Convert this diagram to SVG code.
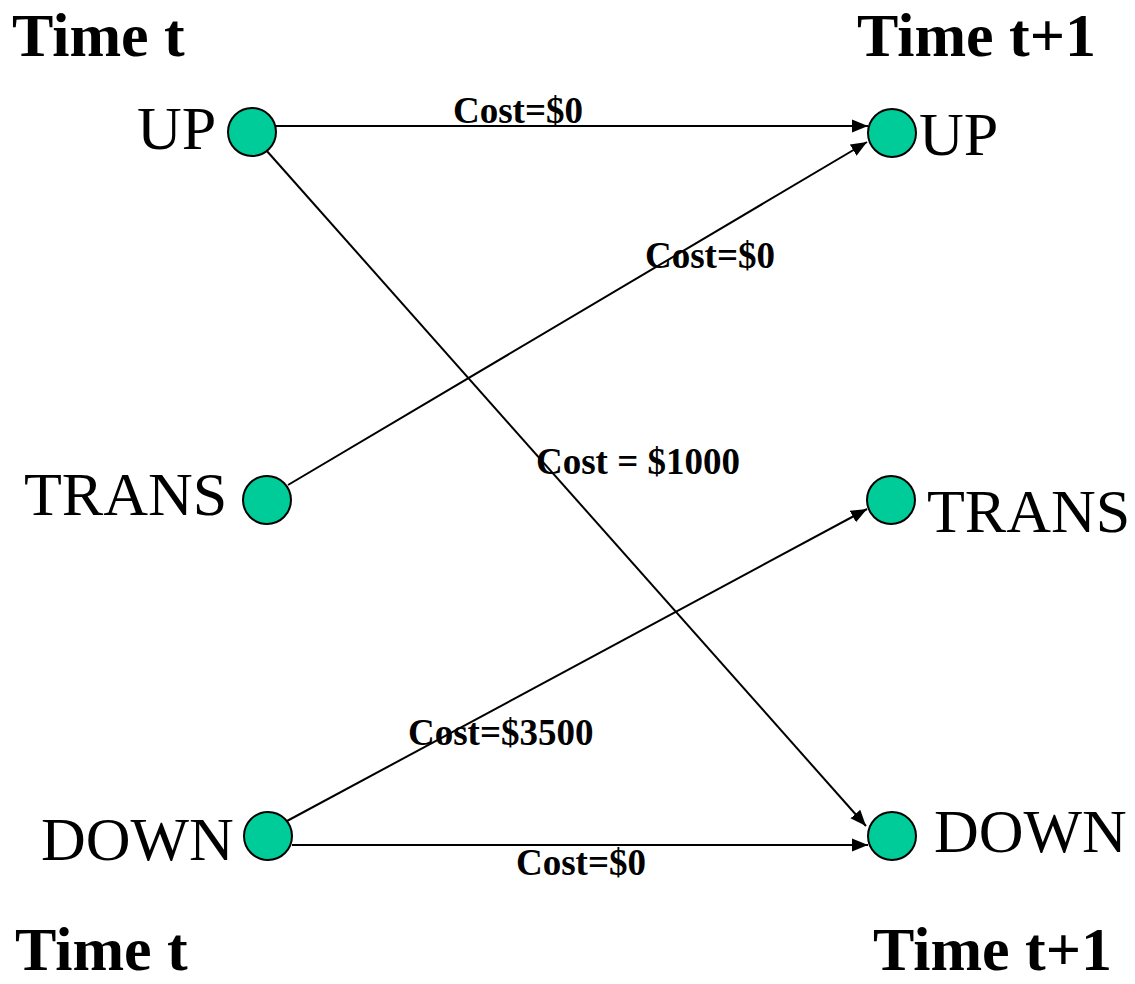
<svg xmlns="http://www.w3.org/2000/svg" width="1135" height="984" viewBox="0 0 1135 984">
<style>
.node{fill:#00CC99;stroke:#000;stroke-width:2}
.lbl{font-family:"Liberation Serif","Times New Roman",serif;font-size:62px;fill:#000}
.hdr{font-family:"Liberation Serif","Times New Roman",serif;font-size:62px;font-weight:bold;fill:#000}
.cost{font-family:"Liberation Serif","Times New Roman",serif;font-size:37px;font-weight:bold;fill:#000}
.edge{stroke:#000;stroke-width:2;fill:none;marker-end:url(#arr)}
</style>
<defs>
<marker id="arr" markerUnits="userSpaceOnUse" markerWidth="17" markerHeight="14" refX="16" refY="7" orient="auto">
<path d="M0,0.5 L16,7 L0,13.5 z" fill="#000"/>
</marker>
</defs>
<rect width="1135" height="984" fill="#fff"/>
<g id="headers">
<text class="hdr" x="12" y="56">Time t</text>
<text class="hdr" x="857" y="56">Time t+1</text>
<text class="hdr" x="15" y="970">Time t</text>
<text class="hdr" x="873" y="970">Time t+1</text>
</g>
<g id="connectors">
<line class="edge" x1="276" y1="126" x2="868" y2="126"/>
<line class="edge" x1="288" y1="485" x2="867" y2="142"/>
<line class="edge" x1="266" y1="150" x2="866" y2="826"/>
<line class="edge" x1="287" y1="821" x2="867" y2="509"/>
<line class="edge" x1="292" y1="845" x2="868" y2="845"/>
<text class="cost" x="453" y="123">Cost=$0</text>
<text class="cost" x="645" y="268">Cost=$0</text>
<text class="cost" x="536" y="474">Cost = $1000</text>
<text class="cost" x="408" y="745">Cost=$3500</text>
<text class="cost" x="516" y="875">Cost=$0</text>
</g>
<g id="node-up-t">
<circle class="node" cx="252" cy="132" r="24"/>
<text class="lbl" x="137" y="149">UP</text>
</g>
<g id="node-trans-t">
<circle class="node" cx="267" cy="500" r="24"/>
<text class="lbl" x="24" y="515">TRANS</text>
</g>
<g id="node-down-t">
<circle class="node" cx="268" cy="836" r="24"/>
<text class="lbl" x="41" y="860">DOWN</text>
</g>
<g id="node-up-t1">
<circle class="node" cx="892" cy="133" r="24"/>
<text class="lbl" x="919" y="155">UP</text>
</g>
<g id="node-trans-t1">
<circle class="node" cx="891" cy="500" r="24"/>
<text class="lbl" x="927" y="532">TRANS</text>
</g>
<g id="node-down-t1">
<circle class="node" cx="892" cy="836" r="24"/>
<text class="lbl" x="934" y="852">DOWN</text>
</g>
</svg>
